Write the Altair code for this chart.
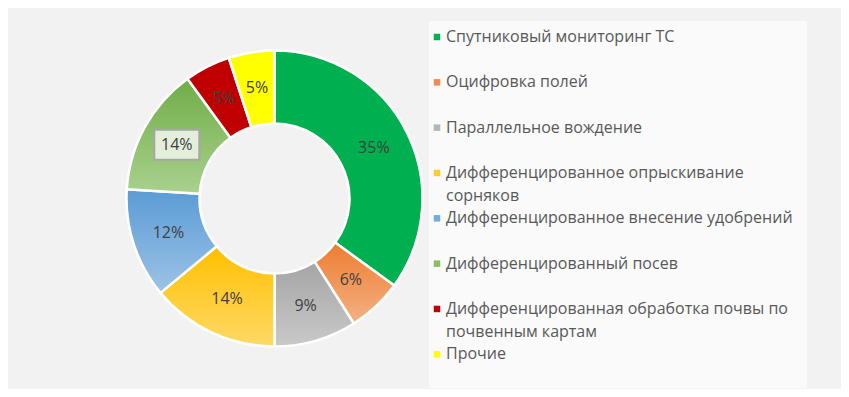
import math
import altair as alt
import pandas as pd

# ---- data -------------------------------------------------------------
categories = [
    "Спутниковый мониторинг ТС",
    "Оцифровка полей",
    "Параллельное вождение",
    "Дифференцированное опрыскивание\nсорняков",
    "\u00a0Дифференцированное внесение удобрений",
    "Дифференцированный посев",
    "Дифференцированная обработка почвы по\nпочвенным картам",
    "Прочие",
]
shares = [35, 6, 9, 14, 12, 14, 5, 5]
labels = ["35%", "6%", "9%", "14%", "12%", "14%", "5%", "5%"]

# slice gradients (top colour -> bottom colour)
top_colors = ["#00B050", "#ED7D31", "#A5A5A5", "#FFC000", "#5B9BD5", "#70AD47", "#C00000", "#FFFF00"]
bottom_colors = ["#00B050", "#F4B183", "#C9C9C9", "#FFD966", "#9DC3E6", "#A9D18E", "#C00000", "#FFFF00"]
legend_colors = ["#00B050", "#F08A50", "#B5B5B5", "#FFCB33", "#74AADD", "#88BF62", "#C00000", "#FFFF00"]

# ---- layout -----------------------------------------------------------
W, H = 833, 381
CX, CY = 266.5, 190.5
R_OUT, R_IN = 148, 75
R_LAB = (R_OUT + R_IN) / 2
FONT = "Open Sans"

df = pd.DataFrame({
    "idx": list(range(len(categories))),
    "category": categories,
    "share": shares,
    "label": labels,
    "lcolor": legend_colors,
})

theta_scale = alt.Scale(domain=[0, 100], range=[0, 2 * math.pi])

base = (
    alt.Chart(df)
    .transform_window(cum="sum(share)", sort=[alt.SortField("idx")], frame=[None, 0])
    .transform_calculate(start="datum.cum - datum.share", mid="datum.cum - datum.share / 2")
)

layers = []

# legend panel
panel = alt.Chart(pd.DataFrame({"a": [0]})).mark_rect(fill="#FAFAFA").encode(
    x=alt.value(421), x2=alt.value(799), y=alt.value(13), y2=alt.value(380)
)
layers.append(panel)

# slices
for i in range(len(categories)):
    if top_colors[i] == bottom_colors[i]:
        fill = top_colors[i]
    else:
        fill = alt.LinearGradient(
            gradient="linear",
            stops=[alt.GradientStop(offset=0, color=top_colors[i]),
                   alt.GradientStop(offset=1, color=bottom_colors[i])],
            x1=0, x2=0, y1=0, y2=1,
        )
    arc = (
        base.transform_filter(alt.datum.idx == i)
        .mark_arc(outerRadius=R_OUT, innerRadius=R_IN, fill=fill, stroke="white", strokeWidth=2.5)
        .encode(
            theta=alt.Theta("start:Q", scale=theta_scale),
            theta2="cum:Q",
            x=alt.value(CX),
            y=alt.value(CY),
        )
    )
    layers.append(arc)

# boxed label for "Дифференцированный посев"
box = (
    base.transform_filter(alt.datum.idx == 5)
    .transform_calculate(
        px=f"{CX} + {R_LAB} * sin(2 * PI * datum.mid / 100)",
        py=f"{CY} - {R_LAB} * cos(2 * PI * datum.mid / 100)",
    )
    .mark_point(
        shape="M-1.5,-1L1.5,-1L1.5,1L-1.5,1Z",
        size=900, filled=True, fill="#E3EFDB", stroke="#A6A6A6", strokeWidth=2, opacity=1,
    )
    .encode(x=alt.X("px:Q", scale=None, axis=None), y=alt.Y("py:Q", scale=None, axis=None))
)
layers.append(box)

# data labels
text = base.mark_text(radius=R_LAB, fontSize=16, font=FONT, color="#404040").encode(
    theta=alt.Theta("mid:Q", scale=theta_scale),
    text="label:N",
    x=alt.value(CX),
    y=alt.value(CY),
)
layers.append(text)

# legend
leg_y = alt.Y("idx:Q", scale=alt.Scale(domain=[0, 7], range=[29, 346.3]), axis=None)
leg_sq = alt.Chart(df).mark_point(shape="square", filled=True, size=42, opacity=1).encode(
    x=alt.value(429),
    y=leg_y,
    fill=alt.Fill("lcolor:N", scale=None),
)
leg_txt = alt.Chart(df).mark_text(
    align="left", baseline="alphabetic", dy=5, fontSize=16, font=FONT,
    color="#595959", lineBreak="\n", lineHeight=23,
).encode(x=alt.value(438), y=leg_y, text="category:N")
layers += [leg_sq, leg_txt]

chart = (
    alt.layer(*layers)
    .properties(width=W, height=H, autosize=alt.AutoSizeParams(type="none"), padding=0,
                background="#F2F2F2")
    .configure_view(stroke=None)
)

chart.save("out.html", embed_options={"renderer": "svg", "actions": False})
